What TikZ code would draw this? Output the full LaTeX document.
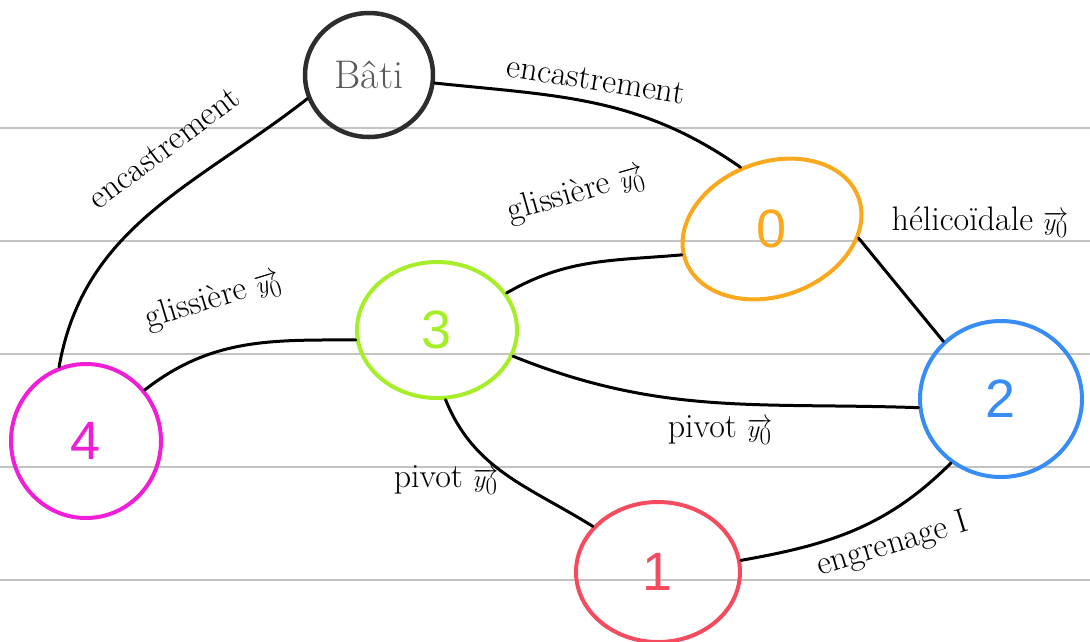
\documentclass[tikz,border=0pt]{standalone}
\usepackage{fontspec}
\usetikzlibrary{shapes.geometric}
\definecolor{rule}{RGB}{195,195,195}
\definecolor{cbati}{RGB}{45,45,45}
\definecolor{cbatitext}{RGB}{90,90,90}
\definecolor{corange}{RGB}{250,168,30}
\definecolor{cgreen}{RGB}{165,238,40}
\definecolor{cblue}{RGB}{55,140,245}
\definecolor{cmag}{RGB}{240,30,215}
\definecolor{cred}{RGB}{245,75,95}
\newfontfamily\numfont{Liberation Sans}
\begin{document}
\begin{tikzpicture}[x=1pt,y=1pt,
  part/.style={ellipse, draw, line width=4pt, inner sep=0pt, font=\numfont\fontsize{54}{60}\selectfont},
  numtext/.style={inner sep=0pt, font=\numfont\fontsize{54}{60}\selectfont},
  link/.style={line width=3pt, black, line cap=round},
  lab/.style={font=\fontsize{34}{38}\selectfont, inner sep=1pt},
  ruleline/.style={rule, line width=2.2pt}]
\useasboundingbox (0,0) rectangle (1090,-641);
% ruled paper lines
\foreach \yy in {128,241,354,467,580}
  \draw[ruleline] (0,-\yy) -- (1090,-\yy);
% nodes
\node[part, cbati, line width=4.5pt, minimum width=128pt, minimum height=124pt, text=cbatitext,
      font=\fontsize{40}{44}\selectfont] (bati) at (369,-75) {Bâti};
\node[part, corange, minimum width=184pt, minimum height=134pt, rotate=20] (n0) at (772,-229) {};
\node[numtext, corange] (t0) at (n0.center) {0};
\node[part, cgreen, minimum width=160pt, minimum height=136pt] (n3) at (437,-330) {3};
\node[part, cblue, minimum width=162pt, minimum height=156pt] (n2) at (1001,-399) {2};
\node[part, cmag, minimum width=150pt, minimum height=154pt] (n4) at (86,-441) {4};
\node[part, cred, minimum width=164pt, minimum height=140pt] (n1) at (658,-572) {1};
% connectors
\draw[link] (bati.201) to[out=218, in=80] (n4.110);
\draw[link] (bati.353) to[out=-6, in=145] (n0.97);
\draw[link] (n0.-26) -- (n2.135);
\draw[link] (n3.28) to[out=30, in=185] (n0.176);
\draw[link] (n4.41) to[out=38, in=180] (n3.187);
\draw[link] (n3.-19) to[out=-22, in=178] (n2.186);
\draw[link] (n3.277) to[out=-68, in=148] (n1.145);
\draw[link] (n1.8) to[out=10, in=225] (n2.232);
% labels
\node[lab, rotate=37] (l1) at (164,-148) {encastrement};
\node[lab, rotate=-9] (l2) at (596,-80) {encastrement};
\node[lab, rotate=16] (l3) at (576,-194) {glissière $\overrightarrow{y_0}$};
\node[lab, rotate=17] (l4) at (213,-300) {glissière $\overrightarrow{y_0}$};
\node[lab] (l5) at (980,-222) {hélicoïdale $\overrightarrow{y_0}$};
\node[lab] (l6) at (720,-430) {pivot $\overrightarrow{y_0}$};
\node[lab] (l7) at (446,-480) {pivot $\overrightarrow{y_0}$};
\node[lab, rotate=17] (l8) at (893,-545) {engrenage I};
\end{tikzpicture}
\end{document}
